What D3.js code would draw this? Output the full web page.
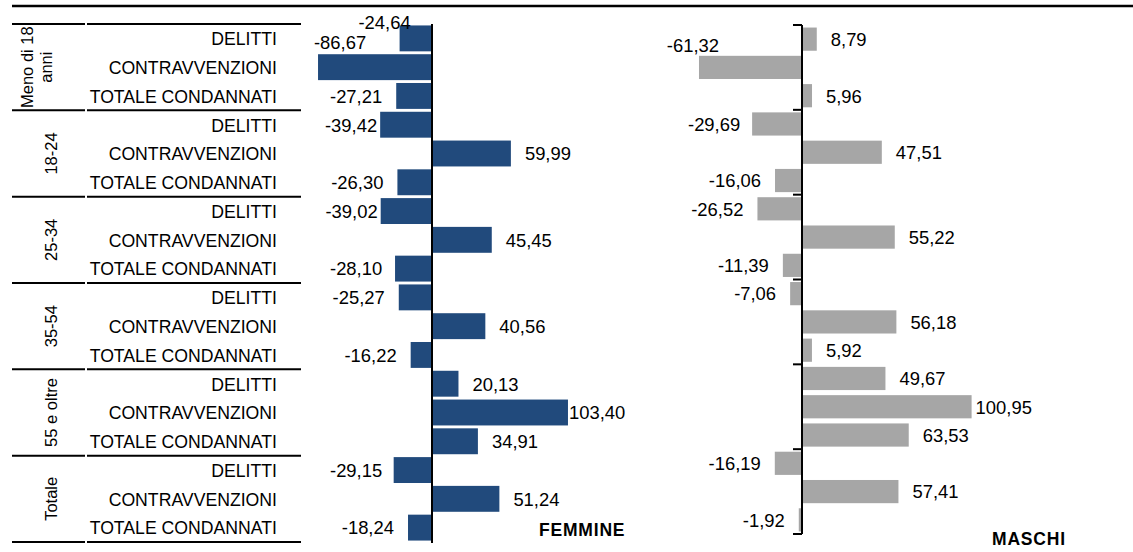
<!DOCTYPE html>
<html><head><meta charset="utf-8">
<script src="https://cdn.jsdelivr.net/npm/d3@7"></script>
<style>
body{margin:0;background:#fff}
svg{display:block;background:#fff}
text{font-family:"Liberation Sans",Arial,sans-serif;fill:#000}
</style>
</head><body>
<svg id="c" width="1133" height="552"></svg>
<script>
// ---- data ----
const groups = ["Meno di 18 anni", "18-24", "25-34", "35-54", "55 e oltre", "Totale"];
const types = ["DELITTI", "CONTRAVVENZIONI", "TOTALE CONDANNATI"];
const femmine = [-24.64, -86.67, -27.21, -39.42, 59.99, -26.30, -39.02, 45.45, -28.10,
                 -25.27, 40.56, -16.22, 20.13, 103.40, 34.91, -29.15, 51.24, -18.24];
const maschi  = [8.79, -61.32, 5.96, -29.69, 47.51, -16.06, -26.52, 55.22, -11.39,
                 -7.06, 56.18, 5.92, 49.67, 100.95, 63.53, -16.19, 57.41, -1.92];
const panelTitles = ["FEMMINE", "MASCHI"];

// ---- setup ----
const svg = d3.select("#c");
const rows = groups.flatMap((g, gi) => types.map((t, ti) => ({g, gi, t, ti, i: gi * 3 + ti})));
const fmt = v => d3.format(".2f")(v).replace(".", ",").replace("\u2212", "-");
const FS = 19, SQ = 0.93, GFS = 16.5, NFS = 19, NSQ = 0.97;

// top rule
svg.append("line").attr("x1", 12).attr("x2", 1133).attr("y1", 6).attr("y2", 6)
  .attr("stroke", "#000").attr("stroke-width", 2.5);

// ---- left table (uses femmine row geometry) ----
const yTable = d3.scaleBand().domain(d3.range(rows.length)).range([24, 542]);
const groupEdges = d3.range(groups.length + 1).map(k => k === groups.length ? 542 : yTable(k * 3));
const tbl = svg.append("g");
groupEdges.forEach(y => {
  tbl.append("line").attr("x1", 12).attr("x2", 85).attr("y1", y).attr("y2", y)
    .attr("stroke", "#000").attr("stroke-width", 2);
  tbl.append("line").attr("x1", 87).attr("x2", 301).attr("y1", y).attr("y2", y)
    .attr("stroke", "#000").attr("stroke-width", 2);
});
rows.forEach(r => {
  tbl.append("text")
    .attr("transform", `translate(277,${yTable(r.i) + yTable.bandwidth() / 2}) scale(${SQ},1)`)
    .attr("text-anchor", "end").attr("dy", "0.36em").attr("font-size", FS).text(r.t);
});
groups.forEach((g, gi) => {
  const cy = (groupEdges[gi] + groupEdges[gi + 1]) / 2;
  const lines = g === "Meno di 18 anni" ? ["Meno di 18", "anni"] : [g];
  const bases = lines.length === 2 ? [33, 52] : [57];
  lines.forEach((ln, li) => {
    tbl.append("text")
      .attr("transform", `translate(${bases[li]},${cy}) rotate(-90)`)
      .attr("text-anchor", "middle").attr("font-size", GFS).text(ln);
  });
});

// ---- panels ----
const panels = [
  {values: femmine, title: panelTitles[0], color: "#214a7c",
   x: d3.scaleLinear().domain([-100, 100]).range([300.5, 563.5]),
   y: d3.scaleBand().domain(d3.range(18)).range([24, 542]).paddingInner(0.1).paddingOuter(0.05),
   axisY: [24, 543], ticks: false, clamp: [330, 622],
   special: {0: {dx: -15, dy: -16}, 1: {dx: 22, dy: -25}},
   titleX: 539, titleY: 536},
  {values: maschi, title: panelTitles[1], color: "#a6a6a6",
   x: d3.scaleLinear().domain([-100, 100]).range([634, 970]),
   y: d3.scaleBand().domain(d3.range(18)).range([25, 534]).paddingInner(0.18).paddingOuter(0.09),
   axisY: [25, 534], ticks: true, clamp: [688, 1032],
   special: {1: {dx: -6, dy: -22}},
   titleX: 992, titleY: 545}
];

panels.forEach(p => {
  const g = svg.append("g");
  const x0 = p.x(0);
  g.selectAll("rect").data(p.values).join("rect")
    .attr("x", d => Math.min(p.x(d), x0))
    .attr("width", d => Math.abs(p.x(d) - x0))
    .attr("y", (d, i) => p.y(i))
    .attr("height", p.y.bandwidth())
    .attr("fill", p.color);

  // axis
  g.append("line").attr("x1", x0).attr("x2", x0).attr("y1", p.axisY[0]).attr("y2", p.axisY[1])
    .attr("stroke", "#000").attr("stroke-width", 2);
  if (p.ticks) {
    const step = (p.axisY[1] - p.axisY[0]) / groups.length;
    d3.range(groups.length + 1).forEach(k => {
      const ty = p.axisY[0] + k * step;
      g.append("line").attr("x1", x0 - 9).attr("x2", x0).attr("y1", ty).attr("y2", ty)
        .attr("stroke", "#000").attr("stroke-width", 2);
    });
  }

  // labels
  p.values.forEach((v, i) => {
    const cy = p.y(i) + p.y.bandwidth() / 2;
    const t = g.append("text").attr("font-size", NFS).attr("dy", "0.36em").text(fmt(v));
    const w = t.node().getComputedTextLength() * NSQ;
    const sp = p.special[i];
    let sx;
    if (sp) {
      sx = p.x(Math.min(v, 0)) + sp.dx;
      t.attr("text-anchor", "middle")
        .attr("transform", `translate(${sx},${cy + sp.dy}) scale(${NSQ},1)`);
      return;
    }
    if (v < 0) {
      sx = p.x(v) - 14 - w;
      if (sx < p.clamp[0]) sx = p.clamp[0];
      if (sx + w > p.x(v) - 3) sx = p.x(v) - 3 - w;
    } else {
      sx = p.x(v) + 14;
      if (sx + w > p.clamp[1]) sx = Math.max(p.x(v) + 1, p.clamp[1] - w);
    }
    t.attr("transform", `translate(${sx},${cy}) scale(${NSQ},1)`);
  });

  g.append("text").attr("x", p.titleX).attr("y", p.titleY)
    .attr("font-size", 17.5).attr("font-weight", "bold").attr("letter-spacing", 0.8)
    .text(p.title);
});
</script>
</body></html>
